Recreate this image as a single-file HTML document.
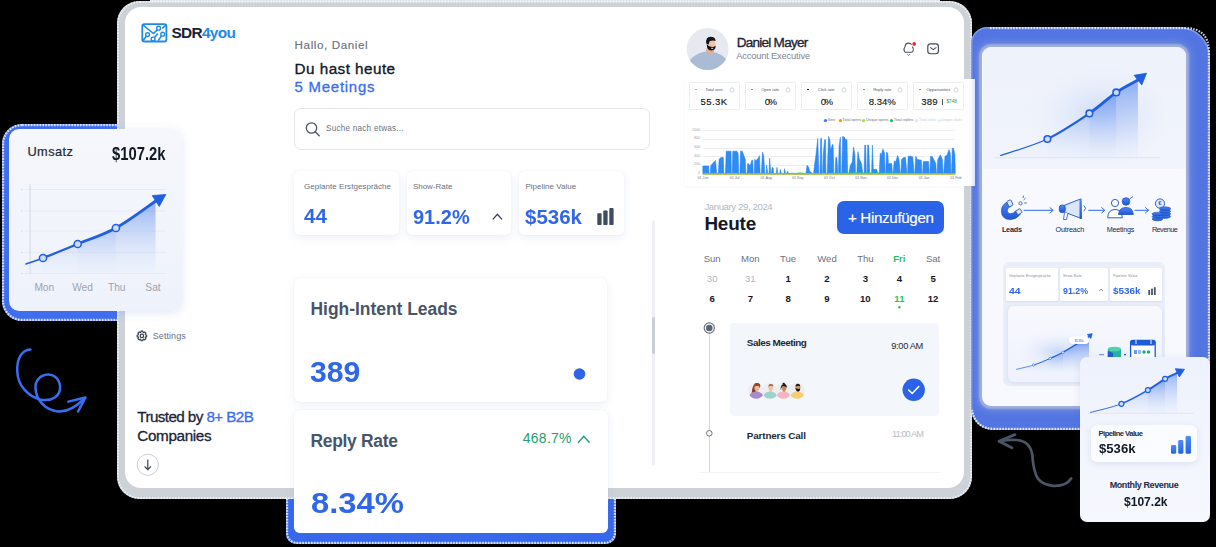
<!DOCTYPE html>
<html><head><meta charset="utf-8">
<style>
*{margin:0;padding:0;box-sizing:border-box}
html,body{width:1216px;height:547px;overflow:hidden;background:#000;font-family:"Liberation Sans",sans-serif}
.a{position:absolute}
svg.a{overflow:visible}
.t{position:absolute;white-space:nowrap;line-height:1}
</style></head><body>
<div class="a" style="left:2.00px;top:124.00px;width:186.00px;height:197.00px;border-radius:20px;background:#3f6ef0;box-shadow:inset 0 0 0 1.5px rgba(190,200,250,.4)"></div>
<div class="a" style="left:286.00px;top:470.00px;width:330.00px;height:74.00px;border-radius:0 0 10px 10px;background:#3869ee;box-shadow:inset 0 0 0 1.5px rgba(190,200,250,.4)"></div>
<svg class="a" style="left:0.00px;top:122.00px;" width="190.00" height="201.00" viewBox="0.00 122.00 190.00 201.00"><rect x="3.10" y="125.10" width="183.80" height="194.80" rx="19.00" fill="none" stroke="rgba(240,246,255,.85)" stroke-width="2.20" stroke-dasharray="1.6 1.3"/></svg>
<svg class="a" style="left:284.00px;top:458.00px;" width="334.00" height="88.00" viewBox="284.00 458.00 334.00 88.00"><rect x="287.10" y="461.10" width="327.80" height="81.80" rx="10.00" fill="none" stroke="rgba(240,246,255,.85)" stroke-width="2.20" stroke-dasharray="1.6 1.3"/></svg>
<div class="a" style="left:117.00px;top:1.00px;width:855.00px;height:498.00px;border-radius:22px;background:#ccd2d8"></div>
<div class="a" style="left:150.00px;top:0.00px;width:790.00px;height:2.20px;background:#e4e7ec"></div>
<svg class="a" style="left:115.00px;top:-1.00px;" width="859.00" height="502.00" viewBox="115.00 -1.00 859.00 502.00"><rect x="117.90" y="1.90" width="853.20" height="496.20" rx="22.00" fill="none" stroke="rgba(245,248,250,.85)" stroke-width="1.80" stroke-dasharray="1.6 1.3"/></svg>
<div class="a" style="left:125.00px;top:7.00px;width:839.00px;height:481.00px;border-radius:16px;background:#fff"></div>
<div class="a" style="left:971.00px;top:27.00px;width:239.00px;height:403.00px;border-radius:16px 30px 30px 22px;background:#5275e2;box-shadow:inset 0 0 0 1.5px rgba(190,200,250,.45)"></div>
<svg class="a" style="left:968.00px;top:24.00px;" width="244.00" height="409.00" viewBox="968.00 24.00 244.00 409.00"><path d="M990 28.1 L1185 28.1 Q1208.9 28.1 1208.9 52 L1208.9 405 Q1208.9 428.9 1185 428.9 L995 428.9 Q975 428.9 972.1 410" fill="none" stroke="rgba(240,246,255,.85)" stroke-width="2.2" stroke-dasharray="1.6 1.3"/></svg>
<svg class="a" style="left:139.00px;top:21.00px;" width="31.00" height="23.00" viewBox="139.00 21.00 31.00 23.00">
<rect x="142.3" y="24.1" width="24.1" height="17.4" rx="2" fill="none" stroke="#1f8ae8" stroke-width="1.8"/>
<path d="M142.8 24.8 L153.5 33.5 L157.6 29.6 M162.2 28.4 L166 25.2 M142.6 41 L146.4 36 M154.3 37.5 L157.8 33.6 M158.2 40.6 L161.6 35.8" fill="none" stroke="#1f8ae8" stroke-width="1.6"/>
<circle cx="147.6" cy="34.6" r="1.9" fill="#fff" stroke="#1f8ae8" stroke-width="1.4"/>
<circle cx="153.1" cy="39" r="1.9" fill="#fff" stroke="#1f8ae8" stroke-width="1.4"/>
<circle cx="158.6" cy="28.2" r="1.9" fill="#fff" stroke="#1f8ae8" stroke-width="1.4"/>
<circle cx="162.7" cy="34.2" r="1.9" fill="#fff" stroke="#1f8ae8" stroke-width="1.4"/>
</svg>
<div class="t" style="left:171.50px;top:25.15px;font-size:15.41px;color:#182238;font-weight:bold;letter-spacing:-0.684px;">SDR<span style="color:#1f8ae8">4you</span></div>
<div class="t" style="left:294.60px;top:39.05px;font-size:11.63px;color:#6b7280;letter-spacing:0.590px;-webkit-text-stroke-width:0.15px;">Hallo, Daniel</div>
<div class="t" style="left:294.60px;top:60.58px;font-size:15.26px;color:#111827;letter-spacing:0.459px;-webkit-text-stroke-width:0.35px;">Du hast heute</div>
<div class="t" style="left:294.60px;top:79.72px;font-size:14.97px;color:#3a6cf0;letter-spacing:0.737px;-webkit-text-stroke-width:0.30px;">5 Meetings</div>
<div class="a" style="left:294.00px;top:108.00px;width:356.00px;height:41.50px;border:1px solid #e3e6eb;border-radius:7px;background:#fff"></div>
<svg class="a" style="left:304.00px;top:120.00px;" width="18.00" height="18.00" viewBox="304.00 120.00 18.00 18.00"><circle cx="311.5" cy="128" r="5.2" fill="none" stroke="#4b5563" stroke-width="1.3"/><path d="M315.3 131.8 L319.2 135.7" stroke="#4b5563" stroke-width="1.4" stroke-linecap="round"/></svg>
<div class="t" style="left:326.00px;top:124.61px;font-size:8.14px;color:#6b7280;letter-spacing:0.247px;">Suche nach etwas...</div>
<div class="a" style="left:294.00px;top:171.00px;width:105.00px;height:64.00px;border-radius:5px;background:#fff;box-shadow:0 3px 8px rgba(60,90,160,.09),0 0 1px 0 rgba(200,210,230,.5)"></div>
<div class="a" style="left:406.60px;top:171.00px;width:104.60px;height:64.00px;border-radius:5px;background:#fff;box-shadow:0 3px 8px rgba(60,90,160,.09),0 0 1px 0 rgba(200,210,230,.5)"></div>
<div class="a" style="left:518.80px;top:171.00px;width:105.00px;height:64.00px;border-radius:5px;background:#fff;box-shadow:0 3px 8px rgba(60,90,160,.09),0 0 1px 0 rgba(200,210,230,.5)"></div>
<div class="t" style="left:304.00px;top:183.23px;font-size:7.99px;color:#6b7280;letter-spacing:0.045px;">Geplante Erstgespräche</div>
<div class="t" style="left:412.90px;top:183.23px;font-size:7.99px;color:#6b7280;letter-spacing:-0.005px;">Show-Rate</div>
<div class="t" style="left:525.40px;top:183.23px;font-size:7.99px;color:#6b7280;letter-spacing:0.027px;">Pipeline Value</div>
<div class="t" style="left:304.00px;top:207.39px;font-size:19.62px;color:#2f66ea;font-weight:bold;transform:scaleX(1.0446);transform-origin:0 0;">44</div>
<div class="t" style="left:412.90px;top:207.02px;font-size:20.06px;color:#2f66ea;font-weight:bold;transform:scaleX(0.9969);transform-origin:0 0;">91.2%</div>
<div class="t" style="left:525.40px;top:207.02px;font-size:20.06px;color:#2f66ea;font-weight:bold;transform:scaleX(1.0219);transform-origin:0 0;">$536k</div>
<svg class="a" style="left:490.00px;top:210.00px;" width="16.00" height="12.00" viewBox="490.00 210.00 16.00 12.00"><path d="M492.8 219.4 L497.4 214.2 L502 219.4" fill="none" stroke="#374151" stroke-width="1.3"/></svg>
<svg class="a" style="left:596.00px;top:206.00px;" width="20.00" height="21.00" viewBox="596.00 206.00 20.00 21.00"><rect x="597.3" y="213.2" width="4.3" height="11.9" rx="0.8" fill="#3f4c5e"/><rect x="603.3" y="210.4" width="4.3" height="14.7" rx="0.8" fill="#3f4c5e"/><rect x="609.3" y="208.1" width="4.3" height="17" rx="0.8" fill="#3f4c5e"/></svg>
<div class="a" style="left:293.80px;top:277.70px;width:313.70px;height:124.10px;border-radius:6px;background:#fff;box-shadow:0 3px 10px rgba(60,90,160,.09),0 0 1px 0 rgba(200,210,230,.5)"></div>
<div class="t" style="left:310.50px;top:300.83px;font-size:17.44px;color:#475569;font-weight:bold;letter-spacing:-0.017px;">High-Intent Leads</div>
<div class="t" style="left:310.00px;top:357.04px;font-size:29.36px;color:#2f66ea;font-weight:bold;transform:scaleX(1.0288);transform-origin:0 0;">389</div>
<svg class="a" style="left:570.00px;top:365.00px;" width="20.00" height="20.00" viewBox="570.00 365.00 20.00 20.00"><circle cx="579.5" cy="374" r="5.8" fill="#2f62e6"/></svg>
<div class="a" style="left:294.00px;top:410.30px;width:314.00px;height:123.20px;border-radius:6px;background:#fff;box-shadow:0 3px 10px rgba(60,90,160,.09),0 0 1px 0 rgba(200,210,230,.5)"></div>
<div class="t" style="left:310.60px;top:432.73px;font-size:17.44px;color:#475569;font-weight:bold;letter-spacing:-0.315px;">Reply Rate</div>
<div class="t" style="left:522.80px;top:432.39px;font-size:13.95px;color:#1f9d6c;letter-spacing:0.279px;">468.7%</div>
<svg class="a" style="left:575.00px;top:432.00px;" width="18.00" height="14.00" viewBox="575.00 432.00 18.00 14.00"><path d="M578 442.8 L583.8 436.2 L589.6 442.8" fill="none" stroke="#1f9d6c" stroke-width="1.3"/></svg>
<div class="t" style="left:310.60px;top:489.03px;font-size:28.78px;color:#2f66ea;font-weight:bold;transform:scaleX(1.1397);transform-origin:0 0;">8.34%</div>
<div class="a" style="left:652.00px;top:220.00px;width:2.50px;height:245.00px;background:#eef0f4;border-radius:2px"></div>
<div class="a" style="left:652.00px;top:316.70px;width:2.50px;height:37.80px;background:#c9ced6;border-radius:2px"></div>
<svg class="a" style="left:134.00px;top:328.00px;" width="16.00" height="16.00" viewBox="134.00 328.00 16.00 16.00"><circle cx="141.9" cy="335.9" r="1.7" fill="none" stroke="#374151" stroke-width="1.2"/><path d="M146.70 334.93 L146.70 336.87 L145.46 336.90 L145.12 337.71 L145.98 338.61 L144.61 339.98 L143.71 339.12 L142.90 339.46 L142.87 340.70 L140.93 340.70 L140.90 339.46 L140.09 339.12 L139.19 339.98 L137.82 338.61 L138.68 337.71 L138.34 336.90 L137.10 336.87 L137.10 334.93 L138.34 334.90 L138.68 334.09 L137.82 333.19 L139.19 331.82 L140.09 332.68 L140.90 332.34 L140.93 331.10 L142.87 331.10 L142.90 332.34 L143.71 332.68 L144.61 331.82 L145.98 333.19 L145.12 334.09 L145.46 334.90Z" fill="none" stroke="#374151" stroke-width="1.1" stroke-linejoin="round"/></svg>
<div class="t" style="left:152.80px;top:331.57px;font-size:9.01px;color:#6b7280;letter-spacing:0.055px;">Settings</div>
<div class="t" style="left:137.30px;top:409.48px;font-size:15.26px;color:#1b2438;letter-spacing:-0.604px;-webkit-text-stroke-width:0.30px;">Trusted by <span style="color:#3a6cf0">8+ B2B</span></div>
<div class="t" style="left:137.30px;top:427.88px;font-size:15.26px;color:#1b2438;letter-spacing:-0.355px;-webkit-text-stroke-width:0.30px;">Companies</div>
<svg class="a" style="left:135.00px;top:452.00px;" width="26.00" height="26.00" viewBox="135.00 452.00 26.00 26.00"><circle cx="147.8" cy="464.8" r="10.6" fill="#fff" stroke="#c4c8ce" stroke-width="0.9"/><path d="M147.8 459.5 V469.5 M144.6 466.4 L147.8 469.7 L151 466.4" fill="none" stroke="#374151" stroke-width="1.2"/></svg>
<svg class="a" style="left:684.00px;top:26.00px;" width="48.00" height="46.00" viewBox="684.00 26.00 48.00 46.00"><defs><clipPath id="avc"><circle cx="707.6" cy="49" r="21"/></clipPath></defs>
<circle cx="707.6" cy="49" r="21" fill="#e6eaf0"/>
<g clip-path="url(#avc)">
<ellipse cx="708.5" cy="70.5" rx="22" ry="19" fill="#a8bcd6"/>
<path d="M706.2 48.5 L713.2 48.5 L714 51.6 L710.2 55 L705.8 51.6Z" fill="#e8ac93"/>
<ellipse cx="711" cy="43.6" rx="4.4" ry="5.6" fill="#f0c2a6"/>
<path d="M706.2 43.5 Q705.5 37 710.5 36.8 Q715.4 36.8 715.6 41 Q712.6 39.8 709.6 41.2 L708.6 44.5Z" fill="#111318"/>
<path d="M706.8 44 Q706.6 50.3 711.2 50.6 Q715.8 50.3 715.6 45.5 Q714.2 47.2 711.8 47.1 Q708.5 47 706.8 44Z" fill="#111318"/>
<rect x="711.2" y="47.8" width="2" height="0.9" fill="#fff"/>
</g></svg>
<div class="t" style="left:736.70px;top:35.55px;font-size:13.52px;color:#1e2536;letter-spacing:-0.736px;-webkit-text-stroke-width:0.35px;">Daniel Mayer</div>
<div class="t" style="left:736.20px;top:52.12px;font-size:9.30px;color:#7d8696;letter-spacing:-0.160px;">Account Executive</div>
<svg class="a" style="left:898.00px;top:38.00px;" width="46.00" height="22.00" viewBox="898.00 38.00 46.00 22.00"><path d="M911.6 44.6 Q910.6 43.1 908.6 43.1 Q905.3 43.1 905 46.8 Q903.6 48.6 904.2 50.6 Q904.5 52.3 905.8 52.3 L911.4 52.3 Q912.8 52.3 913.2 50.6 Q913.8 48.6 912.4 46.6" fill="none" stroke="#3f4a5a" stroke-width="1.05" stroke-linejoin="round"/>
<path d="M907.4 54.3 L908.6 55.3 L909.8 54.3" fill="none" stroke="#3f4a5a" stroke-width="0.9"/>
<circle cx="914.2" cy="43.9" r="1.9" fill="#ee2d2d"/>
<rect x="927.8" y="43.9" width="10.6" height="9.8" rx="2.6" fill="none" stroke="#3f4a5a" stroke-width="1.15"/>
<path d="M930.2 47.4 L933.2 49.6 L936.4 47.4" fill="none" stroke="#3f4a5a" stroke-width="1.05"/></svg>
<div class="a" style="left:685.00px;top:79.00px;width:290.00px;height:106.60px;background:#fff;box-shadow:0 1px 3px rgba(0,0,0,.04)"></div>
<div class="a" style="left:688.60px;top:82.00px;width:51.10px;height:28.00px;border:0.8px solid #eceef2;border-radius:2px;background:#fff"></div>
<div class="a" style="left:694.60px;top:88.60px;width:2.50px;height:1.60px;background:#f59e0b;border-radius:1px"></div>
<div class="t" style="left:705.54px;top:87.81px;font-size:4.00px;color:#4b5563;">Total sent</div>
<svg class="a" style="left:728.60px;top:86.60px;" width="6.00" height="6.00" viewBox="728.60 86.60 6.00 6.00"><circle cx="731.60" cy="89.6" r="2.2" fill="none" stroke="#b8bcc4" stroke-width="0.6"/></svg>
<div class="t" style="left:700.60px;top:96.68px;font-size:9.59px;color:#111;letter-spacing:0.386px;-webkit-text-stroke:0.12px #111;">55.3K</div>
<div class="a" style="left:744.65px;top:82.00px;width:51.10px;height:28.00px;border:0.8px solid #eceef2;border-radius:2px;background:#fff"></div>
<div class="a" style="left:750.65px;top:88.60px;width:2.50px;height:1.60px;background:#3b82f6;border-radius:1px"></div>
<div class="t" style="left:761.26px;top:87.81px;font-size:4.00px;color:#4b5563;">Open rate</div>
<svg class="a" style="left:784.65px;top:86.60px;" width="6.00" height="6.00" viewBox="784.65 86.60 6.00 6.00"><circle cx="787.65" cy="89.6" r="2.2" fill="none" stroke="#b8bcc4" stroke-width="0.6"/></svg>
<div class="t" style="left:764.75px;top:96.68px;font-size:9.59px;color:#111;letter-spacing:-1.532px;-webkit-text-stroke:0.12px #111;">0%</div>
<div class="a" style="left:800.70px;top:82.00px;width:51.10px;height:28.00px;border:0.8px solid #eceef2;border-radius:2px;background:#fff"></div>
<div class="a" style="left:806.70px;top:88.60px;width:2.50px;height:1.60px;background:#111;border-radius:1px"></div>
<div class="t" style="left:817.86px;top:87.81px;font-size:4.00px;color:#4b5563;">Click rate</div>
<svg class="a" style="left:840.70px;top:86.60px;" width="6.00" height="6.00" viewBox="840.70 86.60 6.00 6.00"><circle cx="843.70" cy="89.6" r="2.2" fill="none" stroke="#b8bcc4" stroke-width="0.6"/></svg>
<div class="t" style="left:820.80px;top:96.68px;font-size:9.59px;color:#111;letter-spacing:-1.532px;-webkit-text-stroke:0.12px #111;">0%</div>
<div class="a" style="left:856.75px;top:82.00px;width:51.10px;height:28.00px;border:0.8px solid #eceef2;border-radius:2px;background:#fff"></div>
<div class="a" style="left:862.75px;top:88.60px;width:2.50px;height:1.60px;background:#a855f7;border-radius:1px"></div>
<div class="t" style="left:873.13px;top:87.81px;font-size:4.00px;color:#4b5563;">Reply rate</div>
<svg class="a" style="left:896.75px;top:86.60px;" width="6.00" height="6.00" viewBox="896.75 86.60 6.00 6.00"><circle cx="899.75" cy="89.6" r="2.2" fill="none" stroke="#b8bcc4" stroke-width="0.6"/></svg>
<div class="t" style="left:868.75px;top:96.68px;font-size:9.59px;color:#111;letter-spacing:-0.040px;-webkit-text-stroke:0.12px #111;">8.34%</div>
<div class="a" style="left:912.80px;top:82.00px;width:51.10px;height:28.00px;border:0.8px solid #eceef2;border-radius:2px;background:#fff"></div>
<div class="a" style="left:918.80px;top:88.60px;width:2.50px;height:1.60px;background:#22c55e;border-radius:1px"></div>
<div class="t" style="left:926.40px;top:87.81px;font-size:4.00px;color:#4b5563;">Opportunities</div>
<svg class="a" style="left:952.80px;top:86.60px;" width="6.00" height="6.00" viewBox="952.80 86.60 6.00 6.00"><circle cx="955.80" cy="89.6" r="2.2" fill="none" stroke="#b8bcc4" stroke-width="0.6"/></svg>
<div class="t" style="left:921.30px;top:96.68px;font-size:9.59px;color:#111;letter-spacing:0.165px;-webkit-text-stroke:0.12px #111;">389</div>
<div class="a" style="left:942.00px;top:98.50px;width:0.70px;height:6.50px;background:#555"></div>
<div class="t" style="left:946.50px;top:99.71px;font-size:4.60px;color:#16a34a;letter-spacing:0.017px;">$748</div>
<svg class="a" style="left:823.10px;top:118.00px;" width="5.00" height="5.00" viewBox="823.10 118.00 5.00 5.00"><circle cx="825.60" cy="120.6" r="1.7" fill="#3b82f6"/></svg>
<div class="t" style="left:827.80px;top:119.15px;font-size:3.60px;color:#6b7280;">Sent</div>
<svg class="a" style="left:837.90px;top:118.00px;" width="5.00" height="5.00" viewBox="837.90 118.00 5.00 5.00"><circle cx="840.40" cy="120.6" r="1.7" fill="#f59e0b"/></svg>
<div class="t" style="left:842.60px;top:119.15px;font-size:3.60px;color:#6b7280;">Total opens</div>
<svg class="a" style="left:861.30px;top:118.00px;" width="5.00" height="5.00" viewBox="861.30 118.00 5.00 5.00"><circle cx="863.80" cy="120.6" r="1.7" fill="#a3e635"/></svg>
<div class="t" style="left:866.00px;top:119.15px;font-size:3.60px;color:#6b7280;">Unique opens</div>
<svg class="a" style="left:889.20px;top:118.00px;" width="5.00" height="5.00" viewBox="889.20 118.00 5.00 5.00"><circle cx="891.70" cy="120.6" r="1.7" fill="#22c55e"/></svg>
<div class="t" style="left:893.90px;top:119.15px;font-size:3.60px;color:#6b7280;">Total replies</div>
<svg class="a" style="left:914.40px;top:118.00px;" width="5.00" height="5.00" viewBox="914.40 118.00 5.00 5.00"><circle cx="916.90" cy="120.6" r="1.7" fill="#e5e7eb"/></svg>
<div class="t" style="left:919.10px;top:119.15px;font-size:3.60px;color:#c9ccd2;">Total clicks</div>
<svg class="a" style="left:936.50px;top:118.00px;" width="5.00" height="5.00" viewBox="936.50 118.00 5.00 5.00"><circle cx="939.00" cy="120.6" r="1.7" fill="#e0f2fe"/></svg>
<div class="t" style="left:941.20px;top:119.15px;font-size:3.60px;color:#c9ccd2;">Unique clicks</div>
<div class="a" style="left:702.70px;top:130.20px;width:252.30px;height:0.60px;background:#eceef2"></div>
<div class="t" style="left:691.99px;top:128.65px;font-size:3.60px;color:#9ca3af;">1000</div>
<div class="a" style="left:702.70px;top:138.90px;width:252.30px;height:0.60px;background:#eceef2"></div>
<div class="t" style="left:693.99px;top:137.35px;font-size:3.60px;color:#9ca3af;">800</div>
<div class="a" style="left:702.70px;top:147.50px;width:252.30px;height:0.60px;background:#eceef2"></div>
<div class="t" style="left:693.99px;top:145.95px;font-size:3.60px;color:#9ca3af;">600</div>
<div class="a" style="left:702.70px;top:156.40px;width:252.30px;height:0.60px;background:#eceef2"></div>
<div class="t" style="left:693.99px;top:154.85px;font-size:3.60px;color:#9ca3af;">400</div>
<div class="a" style="left:702.70px;top:165.00px;width:252.30px;height:0.60px;background:#eceef2"></div>
<div class="t" style="left:693.99px;top:163.45px;font-size:3.60px;color:#9ca3af;">200</div>
<div class="a" style="left:702.70px;top:173.70px;width:252.30px;height:0.60px;background:#eceef2"></div>
<div class="t" style="left:698.00px;top:172.15px;font-size:3.60px;color:#9ca3af;">0</div>
<div class="t" style="left:697.60px;top:177.15px;font-size:3.60px;color:#6b7280;">01 Jun</div>
<div class="t" style="left:729.80px;top:177.15px;font-size:3.60px;color:#6b7280;">01 Jul</div>
<div class="t" style="left:760.59px;top:177.15px;font-size:3.60px;color:#6b7280;">01 Aug</div>
<div class="t" style="left:792.09px;top:177.15px;font-size:3.60px;color:#6b7280;">01 Sep</div>
<div class="t" style="left:824.10px;top:177.15px;font-size:3.60px;color:#6b7280;">01 Oct</div>
<div class="t" style="left:855.30px;top:177.15px;font-size:3.60px;color:#6b7280;">01 Nov</div>
<div class="t" style="left:886.90px;top:177.15px;font-size:3.60px;color:#6b7280;">01 Dec</div>
<div class="t" style="left:918.80px;top:177.15px;font-size:3.60px;color:#6b7280;">01 Jan</div>
<div class="t" style="left:950.20px;top:177.15px;font-size:3.60px;color:#6b7280;">01 Feb</div>
<svg class="a" style="left:700.00px;top:125.00px;" width="260.00" height="53.00" viewBox="700.00 125.00 260.00 53.00"><path d="M702.8 173.7 L702.84 173.70 L702.84 166.11 L708.78 166.11 L709.02 173.70 L710.20 173.70 L710.80 165.76 L713.18 162.79 L715.55 160.41 L716.74 173.70 L718.29 173.70 L719.12 159.22 L720.90 157.44 L723.28 157.44 L723.87 173.70 L725.42 173.70 L726.25 151.14 L731.00 151.14 L731.36 173.70 L732.19 173.70 L732.79 151.14 L736.95 151.14 L738.13 153.28 L738.73 173.70 L739.92 173.70 L740.51 151.14 L742.29 151.14 L745.27 159.22 L745.86 173.70 L747.05 173.70 L747.64 163.38 L748.83 163.97 L749.42 165.16 L750.61 164.57 L751.80 160.17 L752.75 160.17 L753.23 173.70 L754.18 173.70 L754.77 159.22 L755.96 161.00 L757.15 159.22 L758.34 158.03 L759.53 155.65 L760.12 173.70 L761.31 173.70 L762.50 152.09 L763.69 155.65 L764.88 173.70 L766.06 173.70 L766.66 164.93 L767.85 173.70 L769.03 173.70 L769.63 158.03 L770.82 173.70 L771.41 173.70 L772.01 167.30 L773.19 168.13 L773.79 173.70 L776.17 173.70 L777.00 167.30 L777.95 173.70 L779.73 173.70 L780.33 169.32 L781.51 173.70 L783.89 173.70 L784.49 168.73 L785.67 173.70 L786.86 173.70 L787.46 171.11 L788.65 173.70 L791.02 173.70 L791.62 173.24 L794.59 173.24 L795.18 173.70 L805.88 173.70 L807.07 165.16 L808.85 167.54 L809.44 171.11 L811.23 172.29 L811.82 173.70 L813.60 173.70 L814.20 167.54 L815.98 154.47 L817.76 138.42 L818.95 173.70 L820.00 173.29 L820.66 138.42 L821.58 138.42 L821.97 173.29 L822.63 173.29 L823.29 154.21 L824.61 139.74 L825.53 139.74 L825.92 173.29 L827.24 173.29 L828.55 136.45 L829.87 139.74 L830.53 150.26 L832.50 144.34 L833.16 145.00 L833.82 173.29 L835.13 173.29 L835.79 157.50 L836.84 157.50 L837.11 162.11 L837.76 173.29 L838.42 173.29 L839.08 146.32 L840.39 137.11 L840.79 173.29 L841.71 173.29 L842.63 136.45 L844.34 137.11 L845.66 139.74 L846.97 139.74 L847.63 173.29 L848.95 173.29 L850.26 165.39 L852.24 162.11 L853.55 146.97 L854.87 154.21 L855.53 173.29 L856.84 173.29 L857.89 151.58 L859.47 159.47 L861.45 163.42 L862.76 173.29 L864.08 173.29 L864.74 145.00 L865.66 145.00 L866.32 173.29 L867.11 173.29 L867.63 145.00 L868.68 145.00 L869.74 173.29 L871.58 173.29 L872.37 145.00 L873.29 169.34 L876.58 169.34 L877.89 173.29 L879.21 173.29 L880.26 152.89 L881.18 155.53 L882.89 148.95 L884.47 152.89 L885.13 173.29 L885.79 173.29 L886.45 152.24 L887.76 152.89 L888.42 163.42 L891.71 163.42 L892.37 173.29 L893.03 173.29 L894.34 160.79 L895.66 162.11 L897.63 155.53 L898.95 159.47 L900.26 173.29 L900.92 173.29 L901.58 159.47 L903.55 157.50 L905.53 157.50 L906.84 173.29 L907.50 173.29 L908.16 156.18 L910.79 156.18 L912.76 156.84 L914.08 173.29 L914.74 173.29 L915.79 156.18 L917.37 159.47 L921.32 160.13 L921.97 173.29 L922.63 173.29 L923.29 161.45 L928.55 161.45 L929.21 173.29 L929.87 173.29 L930.53 156.18 L932.50 156.84 L935.79 163.42 L936.45 173.29 L937.11 173.29 L937.76 159.47 L940.39 154.87 L942.37 159.47 L943.03 173.29 L943.68 173.29 L945.00 156.18 L946.97 155.53 L948.95 149.61 L950.26 152.89 L950.92 173.29 L951.58 173.29 L952.24 148.29 L953.55 148.29 L954.87 154.87 L955.26 169.34 L955.26 173.29 L955.3 173.7 Z" fill="#2f8cf4" stroke="#1a7ff0" stroke-width="0.5" stroke-linejoin="round"/><path d="M702.8 173.7 L760 173.2 L790 173.5 L800 172.6 L808 173.2 L860 172.6 L955 173.2 L955 174.5 L702.8 174.5Z" fill="#27c97a"/><rect x="702.8" y="173.4" width="252.5" height="1.1" fill="#eab308"/></svg>
<div class="t" style="left:704.40px;top:201.88px;font-size:9.59px;color:#b3b8c0;letter-spacing:-0.384px;">January 29, 2024</div>
<div class="t" style="left:704.40px;top:215.00px;font-size:18.90px;color:#111827;font-weight:bold;letter-spacing:-0.160px;">Heute</div>
<div class="a" style="left:837.00px;top:201.20px;width:106.80px;height:32.70px;border-radius:7px;background:#2a62e8"></div>
<div class="t" style="left:848.00px;top:210.40px;font-size:15.12px;color:#fff;letter-spacing:-0.325px;-webkit-text-stroke-width:0.20px;">+ Hinzufügen</div>
<div class="t" style="left:703.67px;top:253.88px;font-size:9.59px;color:#6b7280;">Sun</div>
<div class="t" style="left:741.07px;top:253.88px;font-size:9.59px;color:#6b7280;">Mon</div>
<div class="t" style="left:780.01px;top:253.88px;font-size:9.59px;color:#6b7280;">Tue</div>
<div class="t" style="left:817.22px;top:253.88px;font-size:9.59px;color:#6b7280;">Wed</div>
<div class="t" style="left:857.13px;top:253.88px;font-size:9.59px;color:#6b7280;">Thu</div>
<div class="t" style="left:893.27px;top:253.88px;font-size:9.59px;color:#22c55e;font-weight:bold;">Fri</div>
<div class="t" style="left:925.90px;top:253.88px;font-size:9.59px;color:#6b7280;">Sat</div>
<div class="t" style="left:706.86px;top:273.88px;font-size:9.59px;color:#b3b8c0;">30</div>
<div class="t" style="left:745.06px;top:273.88px;font-size:9.59px;color:#b3b8c0;">31</div>
<div class="t" style="left:785.43px;top:273.88px;font-size:9.59px;color:#111827;font-weight:bold;">1</div>
<div class="t" style="left:824.33px;top:273.88px;font-size:9.59px;color:#111827;font-weight:bold;">2</div>
<div class="t" style="left:862.73px;top:273.88px;font-size:9.59px;color:#111827;font-weight:bold;">3</div>
<div class="t" style="left:896.73px;top:273.88px;font-size:9.59px;color:#111827;font-weight:bold;">4</div>
<div class="t" style="left:930.43px;top:273.88px;font-size:9.59px;color:#111827;font-weight:bold;">5</div>
<div class="t" style="left:709.53px;top:293.88px;font-size:9.59px;color:#111827;font-weight:bold;">6</div>
<div class="t" style="left:747.73px;top:293.88px;font-size:9.59px;color:#111827;font-weight:bold;">7</div>
<div class="t" style="left:785.43px;top:293.88px;font-size:9.59px;color:#111827;font-weight:bold;">8</div>
<div class="t" style="left:824.33px;top:293.88px;font-size:9.59px;color:#111827;font-weight:bold;">9</div>
<div class="t" style="left:860.06px;top:293.88px;font-size:9.59px;color:#111827;font-weight:bold;">10</div>
<div class="t" style="left:894.33px;top:293.88px;font-size:9.59px;color:#22c55e;font-weight:bold;">11</div>
<div class="t" style="left:927.76px;top:293.88px;font-size:9.59px;color:#111827;font-weight:bold;">12</div>
<svg class="a" style="left:897.00px;top:304.50px;" width="5.00" height="4.50" viewBox="897.00 304.50 5.00 4.50"><circle cx="899.4" cy="306.7" r="1.2" fill="#22c55e"/></svg>
<div class="a" style="left:708.80px;top:332.00px;width:1.10px;height:139.50px;background:#d4d7dc"></div>
<svg class="a" style="left:701.00px;top:320.00px;" width="17.00" height="17.00" viewBox="701.00 320.00 17.00 17.00"><circle cx="709.3" cy="328" r="5.1" fill="#fff" stroke="#6b7280" stroke-width="1.2"/><circle cx="709.3" cy="328" r="3.3" fill="#5b6475"/></svg>
<svg class="a" style="left:704.00px;top:428.00px;" width="11.00" height="11.00" viewBox="704.00 428.00 11.00 11.00"><circle cx="709.3" cy="433.3" r="2.8" fill="#fff" stroke="#6b7280" stroke-width="1"/></svg>
<div class="a" style="left:730.40px;top:323.40px;width:209.10px;height:92.20px;border-radius:4px;background:#f3f6fb"></div>
<div class="t" style="left:746.80px;top:337.63px;font-size:9.88px;color:#1f2937;font-weight:bold;letter-spacing:-0.486px;">Sales Meeting</div>
<div class="t" style="left:891.30px;top:341.72px;font-size:9.30px;color:#1f2937;letter-spacing:-0.347px;">9:00 AM</div>
<div class="t" style="left:746.80px;top:430.83px;font-size:9.88px;color:#1f2937;font-weight:bold;letter-spacing:-0.152px;">Partners Call</div>
<div class="t" style="left:892.00px;top:429.72px;font-size:9.30px;color:#b8bcc4;letter-spacing:-0.952px;">11:00 AM</div>
<div class="a" style="left:700.00px;top:471.50px;width:240.00px;height:0.80px;background:#f0f1f4"></div>
<svg class="a" style="left:745.00px;top:380.00px;" width="63.00" height="22.00" viewBox="745.00 380.00 63.00 22.00"><defs><clipPath id="avk0"><circle cx="756.2" cy="390.8" r="8"/></clipPath><clipPath id="avk1"><circle cx="770.2" cy="390.8" r="8"/></clipPath><clipPath id="avk2"><circle cx="783.4" cy="390.8" r="8"/></clipPath><clipPath id="avk3"><circle cx="797.2" cy="390.8" r="8"/></clipPath></defs><circle cx="756.2" cy="390.8" r="8" fill="#eceef2"/><g clip-path="url(#avk0)"><path d="M751.7 393 Q752.7 383 756.7 382.8 Q760.2 382.8 760.4 386 L757.2 392 Z" fill="#8a3f1c"/><rect x="755.6" y="388.5" width="2.4" height="4" fill="#e9b59b"/><ellipse cx="756.8" cy="387.4" rx="2.5" ry="3.1" fill="#e9b59b"/><ellipse cx="756.2" cy="397.6" rx="7.4" ry="6" fill="#a98bcb"/><path d="M754.2 387 Q755.2 383.2 757.4 384 Q759.2 384.2 759.4 386 Q756.7 385 754.2 387Z" fill="#8a3f1c"/></g><circle cx="770.2" cy="390.8" r="8" fill="#eceef2"/><g clip-path="url(#avk1)"><rect x="769.6" y="388.5" width="2.4" height="4" fill="#efc4ae"/><ellipse cx="770.8" cy="387.4" rx="2.5" ry="3.1" fill="#efc4ae"/><ellipse cx="770.2" cy="397.6" rx="7.4" ry="6" fill="#9fd3c7"/><path d="M768.2 387 Q768.7 383.4 771.0 384 Q773.4 384 773.4 386.4 Q771.0 385 768.2 386.8Z" fill="#a8643a"/></g><circle cx="783.4" cy="390.8" r="8" fill="#eceef2"/><g clip-path="url(#avk2)"><rect x="782.8" y="388.5" width="2.4" height="4" fill="#c68a5c"/><ellipse cx="784.0" cy="387.4" rx="2.5" ry="3.1" fill="#c68a5c"/><ellipse cx="783.4" cy="397.6" rx="7.4" ry="6" fill="#f7b3c0"/><path d="M780.4 390 Q780.9 383.5 784.2 384 Q786.8 384 786.8 387.5 Q784.4 385.2 782.4 386.2 Q781.4 387.5 780.4 390Z" fill="#15161c"/><circle cx="783.7" cy="383" r="1.2" fill="#15161c"/></g><circle cx="797.2" cy="390.8" r="8" fill="#eceef2"/><g clip-path="url(#avk3)"><rect x="796.6" y="388.5" width="2.4" height="4" fill="#c99362"/><ellipse cx="797.8" cy="387.4" rx="2.5" ry="3.1" fill="#c99362"/><ellipse cx="797.2" cy="397.6" rx="7.4" ry="6" fill="#f8cd72"/><path d="M795.2 386.6 Q796.0 383.4 798.0 383.8 Q800.2 384 800.4 386.4 Q798.0 385.2 795.2 386.6Z" fill="#15161c"/><path d="M795.4 388 Q796.2 391.6 798.1 391.5 Q800.2 391.4 800.3 388.6 Q798.0 389.6 795.4 388Z" fill="#15161c"/></g></svg>
<svg class="a" style="left:901.00px;top:377.00px;" width="25.00" height="25.00" viewBox="901.00 377.00 25.00 25.00"><circle cx="913.7" cy="389.8" r="11.2" fill="#2a62e8"/><path d="M908.6 390 L912.2 393.4 L918.8 386.6" fill="none" stroke="#fff" stroke-width="1.5" stroke-linecap="round" stroke-linejoin="round"/></svg>
<div class="a" style="left:9.00px;top:129.00px;width:173.20px;height:182.00px;border-radius:10px;background:linear-gradient(180deg,#f5f7fc,#eef2fb);box-shadow:0 2px 10px rgba(70,110,220,.16)"></div>
<div class="t" style="left:27.40px;top:146.17px;font-size:12.79px;color:#1f2937;letter-spacing:0.442px;-webkit-text-stroke-width:0.20px;">Umsatz</div>
<div class="t" style="left:111.50px;top:145.53px;font-size:17.44px;color:#111827;font-weight:bold;transform:scaleX(0.8485);transform-origin:0 0;">$107.2k</div>
<svg class="a" style="left:18.00px;top:180.00px;" width="157.00" height="98.00" viewBox="18.00 180.00 157.00 98.00"><rect x="25" y="189.3" width="141" height="0.7" fill="#e3e7ef"/><rect x="21" y="189.3" width="2" height="0.6" fill="#c9ceda"/><rect x="25" y="210.6" width="141" height="0.7" fill="#e3e7ef"/><rect x="21" y="210.6" width="2" height="0.6" fill="#c9ceda"/><rect x="25" y="230.7" width="141" height="0.7" fill="#e3e7ef"/><rect x="21" y="230.7" width="2" height="0.6" fill="#c9ceda"/><rect x="25" y="252.0" width="141" height="0.7" fill="#e3e7ef"/><rect x="21" y="252.0" width="2" height="0.6" fill="#c9ceda"/><rect x="25" y="273.0" width="141" height="0.7" fill="#e3e7ef"/><rect x="21" y="273.0" width="2" height="0.6" fill="#c9ceda"/><rect x="29.6" y="184.4" width="0.9" height="89" fill="#cfd4de"/><defs><linearGradient id="gum" gradientUnits="userSpaceOnUse" x1="0" y1="208.00" x2="0" y2="273.00"><stop offset="0" stop-color="#4f82ee"/><stop offset="1" stop-color="#dbe6fb" stop-opacity=".25"/></linearGradient><clipPath id="cum"><path d="M26.00 264.00 C28.83 263.00 34.38 261.33 43.00 258.00 C51.62 254.67 65.55 249.00 77.70 244.00 C89.85 239.00 102.89 235.16 115.90 228.00 C128.91 220.84 149.10 205.53 155.73 201.03 L155.73 273.00 L26.00 273.00 Z"/></clipPath></defs><g clip-path="url(#cum)"><rect x="26.00" y="196.03" width="17.00" height="76.97" fill="url(#gum)" opacity="0.30"/><rect x="43.00" y="196.03" width="34.70" height="76.97" fill="url(#gum)" opacity="0.50"/><rect x="77.70" y="196.03" width="38.20" height="76.97" fill="url(#gum)" opacity="0.70"/><rect x="115.90" y="196.03" width="39.83" height="76.97" fill="url(#gum)" opacity="0.50"/></g><path d="M26.00 264.00 C28.83 263.00 34.38 261.33 43.00 258.00" fill="none" stroke="#1f5fe0" stroke-width="1.60" stroke-linecap="round"/><path d="M43.00 258.00 C51.62 254.67 65.55 249.00 77.70 244.00" fill="none" stroke="#1f5fe0" stroke-width="2.40" stroke-linecap="round"/><path d="M77.70 244.00 C89.85 239.00 102.89 235.16 115.90 228.00" fill="none" stroke="#1f5fe0" stroke-width="2.80" stroke-linecap="round"/><path d="M115.90 228.00 C128.91 220.84 149.10 205.53 155.73 201.03" fill="none" stroke="#1f5fe0" stroke-width="2.80" stroke-linecap="round"/><path d="M165.80 194.50 L159.27 206.49 L152.20 195.58 Z" fill="#1f5fe0" stroke="#1f5fe0" stroke-width=".8" stroke-linejoin="round"/><circle cx="43.00" cy="258.00" r="3.60" fill="#cddcf9" stroke="#1f5fe0" stroke-width="1.50"/><circle cx="77.70" cy="244.00" r="3.60" fill="#cddcf9" stroke="#1f5fe0" stroke-width="1.50"/><circle cx="115.90" cy="228.00" r="3.60" fill="#cddcf9" stroke="#1f5fe0" stroke-width="1.50"/></svg>
<div class="t" style="left:34.40px;top:282.89px;font-size:10.17px;color:#9aa3b2;">Mon</div>
<div class="t" style="left:72.13px;top:282.89px;font-size:10.17px;color:#9aa3b2;">Wed</div>
<div class="t" style="left:107.93px;top:282.89px;font-size:10.17px;color:#9aa3b2;">Thu</div>
<div class="t" style="left:145.36px;top:282.89px;font-size:10.17px;color:#9aa3b2;">Sat</div>
<div class="a" style="left:982.00px;top:47.00px;width:204.00px;height:358.60px;border-radius:9px;background:#f8f9fe;box-shadow:0 0 2px 3px rgba(165,180,222,.9),0 0 7px 6px rgba(115,142,222,.7)"></div>
<div class="a" style="left:983.00px;top:47.00px;width:203.00px;height:122.30px;border-radius:9px 9px 4px 4px;background:linear-gradient(180deg,#eef2fb,#f1f4fc)"></div>
<svg class="a" style="left:990.00px;top:65.00px;" width="175.00" height="100.00" viewBox="990.00 65.00 175.00 100.00"><defs><linearGradient id="rg" x1="0" y1="0" x2="0" y2="1"><stop offset="0" stop-color="#5d8bef" stop-opacity=".75"/><stop offset="1" stop-color="#c9daf9" stop-opacity=".25"/></linearGradient><radialGradient id="rglow" cx=".6" cy=".5" r=".5"><stop offset="0" stop-color="#c9d8f6" stop-opacity=".9"/><stop offset="1" stop-color="#eef2fb" stop-opacity="0"/></radialGradient></defs><ellipse cx="1085" cy="115" rx="80" ry="55" fill="url(#rglow)"/><rect x="995" y="157.3" width="165" height="0.9" fill="#dbe2ef"/><defs><linearGradient id="grp" gradientUnits="userSpaceOnUse" x1="0" y1="86.50" x2="0" y2="157.80"><stop offset="0" stop-color="#4f82ee"/><stop offset="1" stop-color="#dbe6fb" stop-opacity=".25"/></linearGradient><clipPath id="crp"><path d="M1000.50 155.50 C1008.32 152.75 1032.58 146.02 1047.40 139.00 C1062.22 131.98 1077.92 121.17 1089.40 113.40 C1100.88 105.63 1108.21 97.95 1116.30 92.40 C1124.39 86.85 1134.33 82.15 1137.94 80.10 L1137.94 157.80 L1000.50 157.80 Z"/></clipPath></defs><g clip-path="url(#crp)"><rect x="1000.50" y="75.10" width="46.90" height="82.70" fill="url(#grp)" opacity="0.35"/><rect x="1047.40" y="75.10" width="42.00" height="82.70" fill="url(#grp)" opacity="0.60"/><rect x="1089.40" y="75.10" width="26.90" height="82.70" fill="url(#grp)" opacity="0.85"/><rect x="1116.30" y="75.10" width="21.64" height="82.70" fill="url(#grp)" opacity="0.55"/></g><path d="M1000.50 155.50 C1008.32 152.75 1032.58 146.02 1047.40 139.00" fill="none" stroke="#1f5fe0" stroke-width="1.20" stroke-linecap="round"/><path d="M1047.40 139.00 C1062.22 131.98 1077.92 121.17 1089.40 113.40" fill="none" stroke="#1f5fe0" stroke-width="2.20" stroke-linecap="round"/><path d="M1089.40 113.40 C1100.88 105.63 1108.21 97.95 1116.30 92.40" fill="none" stroke="#1f5fe0" stroke-width="2.90" stroke-linecap="round"/><path d="M1116.30 92.40 C1124.39 86.85 1134.33 82.15 1137.94 80.10" fill="none" stroke="#1f5fe0" stroke-width="2.90" stroke-linecap="round"/><path d="M1146.50 73.20 L1141.83 84.93 L1134.04 75.28 Z" fill="#1f5fe0" stroke="#1f5fe0" stroke-width=".8" stroke-linejoin="round"/><circle cx="1047.40" cy="139.00" r="3.30" fill="#cddcf9" stroke="#1f5fe0" stroke-width="1.60"/><circle cx="1089.40" cy="113.40" r="3.30" fill="#cddcf9" stroke="#1f5fe0" stroke-width="1.60"/><circle cx="1116.30" cy="92.40" r="3.30" fill="#cddcf9" stroke="#1f5fe0" stroke-width="1.60"/></svg>
<svg class="a" style="left:995.00px;top:192.00px;" width="190.00" height="33.00" viewBox="995.00 192.00 190.00 33.00"><defs><linearGradient id="fg" x1="0" y1="0" x2="0" y2="1"><stop offset="0" stop-color="#4f86f2"/><stop offset="1" stop-color="#1f57d6"/></linearGradient></defs><path d="M1008.8 201.5 Q1001.5 204 1001.5 211 Q1001.5 219.5 1010.5 219.5 Q1016.5 219.5 1020.5 214 L1016.2 210.5 Q1013.5 213.8 1010.5 213.8 Q1007.2 213.8 1007.2 210.5 Q1007.2 207.8 1011 206.2Z" fill="url(#fg)" stroke="#1d4fc4" stroke-width=".8"/><rect x="1007.6" y="200.3" width="4.6" height="6" rx="1" transform="rotate(-25 1009.9 203.3)" fill="#dfe8fb" stroke="#1d4fc4" stroke-width=".8"/><rect x="1016.5" y="209.5" width="5.2" height="4.6" rx="1" transform="rotate(-35 1019 212)" fill="#dfe8fb" stroke="#1d4fc4" stroke-width=".8"/><circle cx="1020.5" cy="203.3" r="1.6" fill="none" stroke="#1d4fc4" stroke-width=".8"/><path d="M1023.5 200 l2 -1.8 M1024.2 203 l2.6 0 M1023 198 l.6 -2.4" stroke="#1d4fc4" stroke-width=".8"/><path d="M1064 205.5 L1080.5 199 L1081.5 218.5 L1064 212Z" fill="#dbe6fb" stroke="#1d4fc4" stroke-width=".9" stroke-linejoin="round"/><rect x="1059.3" y="205" width="6" height="7.6" rx="2.6" fill="url(#fg)" stroke="#1d4fc4" stroke-width=".8"/><path d="M1064.5 212.5 L1063.5 219.5 L1066.5 219.5 L1068 213" fill="#fff" stroke="#1d4fc4" stroke-width=".8"/><rect x="1079.5" y="198.5" width="2.2" height="20.5" rx="1" fill="url(#fg)"/><path d="M1083.8 205.5 L1085.6 208.4 L1083.8 211.2" fill="none" stroke="#1d4fc4" stroke-width=".8"/><circle cx="1115" cy="203" r="3.6" fill="#fff" stroke="#1d4fc4" stroke-width=".9"/><path d="M1107.7 217.8 Q1108 209.5 1115 209.5 Q1122 209.5 1122.3 217.8Z" fill="#fff" stroke="#1d4fc4" stroke-width=".9"/><circle cx="1126" cy="201.5" r="3.8" fill="url(#fg)" stroke="#1d4fc4" stroke-width=".8"/><path d="M1118.5 214.5 Q1119 207.5 1126 207.5 Q1133 207.5 1133.3 214.5Z" fill="url(#fg)" stroke="#1d4fc4" stroke-width=".8"/><path d="M1129.5 199 L1133 196.5" stroke="#1d4fc4" stroke-width=".8"/><circle cx="1160" cy="203.5" r="4.6" fill="#dfe8fb" stroke="#1d4fc4" stroke-width=".9"/><text x="1160" y="205.4" font-size="5" text-anchor="middle" fill="#1d4fc4" font-family="Liberation Sans" font-weight="bold">€</text><ellipse cx="1165" cy="216.5" rx="5.6" ry="1.9" fill="url(#fg)" stroke="#1d4fc4" stroke-width=".6"/><ellipse cx="1165" cy="213.9" rx="5.6" ry="1.9" fill="url(#fg)" stroke="#1d4fc4" stroke-width=".6"/><ellipse cx="1165" cy="211.3" rx="5.6" ry="1.9" fill="url(#fg)" stroke="#1d4fc4" stroke-width=".6"/><ellipse cx="1165" cy="208.7" rx="5.6" ry="1.9" fill="url(#fg)" stroke="#1d4fc4" stroke-width=".6"/><ellipse cx="1157.5" cy="219.0" rx="5.4" ry="1.8" fill="url(#fg)" stroke="#1d4fc4" stroke-width=".6"/><ellipse cx="1157.5" cy="216.5" rx="5.4" ry="1.8" fill="url(#fg)" stroke="#1d4fc4" stroke-width=".6"/><ellipse cx="1157.5" cy="214.0" rx="5.4" ry="1.8" fill="url(#fg)" stroke="#1d4fc4" stroke-width=".6"/><path d="M1024.0 210.3 L1053.0 210.3 M1050.0 207.6 L1053.0 210.3 L1050.0 213" fill="none" stroke="#2d6ae6" stroke-width="1" stroke-linecap="round"/><path d="M1088.7 210.3 L1104.7 210.3 M1101.7 207.6 L1104.7 210.3 L1101.7 213" fill="none" stroke="#2d6ae6" stroke-width="1" stroke-linecap="round"/><path d="M1135.0 210.3 L1148.5 210.3 M1145.5 207.6 L1148.5 210.3 L1145.5 213" fill="none" stroke="#2d6ae6" stroke-width="1" stroke-linecap="round"/></svg>
<div class="t" style="left:1001.90px;top:225.85px;font-size:7.27px;color:#1f2937;font-weight:bold;letter-spacing:-0.221px;">Leads</div>
<div class="t" style="left:1055.50px;top:225.85px;font-size:7.27px;color:#1f2937;letter-spacing:-0.162px;">Outreach</div>
<div class="t" style="left:1106.70px;top:225.85px;font-size:7.27px;color:#1f2937;letter-spacing:-0.249px;">Meetings</div>
<div class="t" style="left:1151.90px;top:225.85px;font-size:7.27px;color:#1f2937;letter-spacing:-0.542px;">Revenue</div>
<div class="a" style="left:1002.60px;top:262.00px;width:162.40px;height:123.50px;border-radius:6px;background:#e9eefa"></div>
<div class="a" style="left:1006.00px;top:268.00px;width:51.70px;height:32.90px;border-radius:2px;background:#fff;box-shadow:0 1px 2px rgba(60,90,160,.1)"></div>
<div class="a" style="left:1060.00px;top:268.00px;width:47.60px;height:32.90px;border-radius:2px;background:#fff;box-shadow:0 1px 2px rgba(60,90,160,.1)"></div>
<div class="a" style="left:1110.00px;top:268.00px;width:52.00px;height:32.90px;border-radius:2px;background:#fff;box-shadow:0 1px 2px rgba(60,90,160,.1)"></div>
<div class="t" style="left:1009.00px;top:275.34px;font-size:3.50px;color:#7b8494;letter-spacing:0.193px;">Geplante Erstgespräche</div>
<div class="t" style="left:1063.00px;top:275.34px;font-size:3.50px;color:#7b8494;letter-spacing:0.187px;">Show-Rate</div>
<div class="t" style="left:1113.00px;top:275.34px;font-size:3.50px;color:#7b8494;letter-spacing:0.177px;">Pipeline Value</div>
<div class="t" style="left:1009.00px;top:287.25px;font-size:9.16px;color:#2f66ea;font-weight:bold;transform:scaleX(1.1290);transform-origin:0 0;">44</div>
<div class="t" style="left:1063.00px;top:287.25px;font-size:9.16px;color:#2f66ea;font-weight:bold;transform:scaleX(0.9629);transform-origin:0 0;">91.2%</div>
<div class="t" style="left:1113.00px;top:287.25px;font-size:9.16px;color:#2f66ea;font-weight:bold;transform:scaleX(1.0799);transform-origin:0 0;">$536k</div>
<svg class="a" style="left:1098.00px;top:287.00px;" width="6.00" height="5.00" viewBox="1098.00 287.00 6.00 5.00"><path d="M1099 291 L1101 289 L1103 291" fill="none" stroke="#6b7280" stroke-width=".7"/></svg>
<svg class="a" style="left:1147.00px;top:286.00px;" width="10.00" height="10.00" viewBox="1147.00 286.00 10.00 10.00"><rect x="1148.3" y="290" width="1.8" height="5" fill="#4b5563"/><rect x="1151.1" y="288.6" width="1.8" height="6.4" fill="#4b5563"/><rect x="1153.9" y="287.2" width="1.8" height="7.8" fill="#4b5563"/></svg>
<div class="a" style="left:1007.50px;top:306.00px;width:154.50px;height:75.50px;border-radius:6px;background:linear-gradient(180deg,#f7f9fe,#eef2fc);box-shadow:0 1px 4px rgba(60,90,160,.12)"></div>
<svg class="a" style="left:1010.00px;top:330.00px;" width="150.00" height="45.00" viewBox="1010.00 330.00 150.00 45.00"><defs><radialGradient id="mglow" cx=".5" cy=".5" r=".5"><stop offset="0" stop-color="#c3d4f7" stop-opacity=".9"/><stop offset="1" stop-color="#eef2fc" stop-opacity="0"/></radialGradient></defs><ellipse cx="1058" cy="352" rx="42" ry="22" fill="url(#mglow)"/><defs><linearGradient id="gmc" gradientUnits="userSpaceOnUse" x1="0" y1="345.30" x2="0" y2="371.60"><stop offset="0" stop-color="#4f82ee"/><stop offset="1" stop-color="#dbe6fb" stop-opacity=".25"/></linearGradient><clipPath id="cmc"><path d="M1016.50 369.30 C1019.37 368.58 1028.08 366.82 1033.70 365.00 C1039.32 363.18 1045.32 360.52 1050.20 358.40 C1055.08 356.28 1056.53 355.95 1063.00 352.30 C1069.47 348.65 1084.70 339.11 1089.05 336.47 L1089.05 371.60 L1016.50 371.60 Z"/></clipPath></defs><g clip-path="url(#cmc)"><rect x="1016.50" y="331.47" width="17.20" height="40.13" fill="url(#gmc)" opacity="0.45"/><rect x="1033.70" y="331.47" width="16.50" height="40.13" fill="url(#gmc)" opacity="0.65"/><rect x="1050.20" y="331.47" width="12.80" height="40.13" fill="url(#gmc)" opacity="0.85"/><rect x="1063.00" y="331.47" width="26.05" height="40.13" fill="url(#gmc)" opacity="0.60"/></g><path d="M1016.50 369.30 C1019.37 368.58 1028.08 366.82 1033.70 365.00" fill="none" stroke="#1f5fe0" stroke-width="0.70" stroke-linecap="round"/><path d="M1033.70 365.00 C1039.32 363.18 1045.32 360.52 1050.20 358.40" fill="none" stroke="#1f5fe0" stroke-width="1.00" stroke-linecap="round"/><path d="M1050.20 358.40 C1055.08 356.28 1056.53 355.95 1063.00 352.30" fill="none" stroke="#1f5fe0" stroke-width="1.30" stroke-linecap="round"/><path d="M1063.00 352.30 C1069.47 348.65 1084.70 339.11 1089.05 336.47" fill="none" stroke="#1f5fe0" stroke-width="1.30" stroke-linecap="round"/><path d="M1092.20 333.70 L1090.76 338.43 L1087.33 334.52 Z" fill="#1f5fe0" stroke="#1f5fe0" stroke-width=".8" stroke-linejoin="round"/><circle cx="1033.70" cy="365.00" r="1.20" fill="#fff" stroke="#1f5fe0" stroke-width="0.60"/><circle cx="1050.20" cy="358.40" r="1.20" fill="#fff" stroke="#1f5fe0" stroke-width="0.60"/><circle cx="1063.00" cy="352.30" r="1.20" fill="#fff" stroke="#1f5fe0" stroke-width="0.60"/><rect x="1069" y="336.5" width="20" height="7.6" rx="3.8" fill="#fff" filter="drop-shadow(0 1px 1px rgba(60,90,160,.15))"/><text x="1079" y="341.6" font-size="3.4" text-anchor="middle" fill="#3a6cf0" font-family="Liberation Sans">$536k</text><rect x="1107.8" y="349" width="13.2" height="10" fill="#2bb39a"/><ellipse cx="1114.4" cy="349" rx="6.6" ry="2.3" fill="#4dd0b4"/><path d="M1107.8 351 L1113 353 L1113 359 L1107.8 359Z" fill="#1e5bd6"/><rect x="1099" y="354" width="5" height="1.2" fill="#6f9af0"/><rect x="1124" y="354" width="2" height="1.2" fill="#1e5bd6"/><rect x="1130.6" y="340.5" width="24.6" height="20" rx="2.2" fill="#fff" stroke="#1e5bd6" stroke-width="1.3"/><rect x="1130.6" y="340.5" width="24.6" height="5" rx="2" fill="#1e5bd6"/><rect x="1134" y="350" width="3" height="4" fill="#6b9af0"/><rect x="1138" y="350" width="3" height="4" fill="#9bb8f2"/><circle cx="1144" cy="352" r="1.8" fill="#22b07d"/><circle cx="1148.5" cy="352" r="1.8" fill="#22b07d"/><path d="M1136 339.5 V344 M1151 339.5 V344" stroke="#cfd6e4" stroke-width="1.2"/></svg>
<div class="a" style="left:1080.00px;top:357.00px;width:130.00px;height:165.00px;border-radius:7px;background:linear-gradient(180deg,#eef2fc 0%,#f2f5fd 55%,#f6f8fe 100%);box-shadow:-2px 0 6px rgba(60,90,160,.08)"></div>
<svg class="a" style="left:1085.00px;top:365.00px;" width="115.00" height="53.00" viewBox="1085.00 365.00 115.00 53.00"><rect x="1088" y="412.9" width="106" height="0.7" fill="#dbe2ef"/><defs><linearGradient id="gpc" gradientUnits="userSpaceOnUse" x1="0" y1="374.50" x2="0" y2="413.20"><stop offset="0" stop-color="#4f82ee"/><stop offset="1" stop-color="#dbe6fb" stop-opacity=".25"/></linearGradient><clipPath id="cpc"><path d="M1090.50 412.40 C1095.65 410.97 1111.83 407.52 1121.40 403.80 C1130.97 400.08 1140.62 394.27 1147.90 390.10 C1155.18 385.93 1160.19 381.67 1165.10 378.80 C1170.01 375.93 1175.29 373.84 1177.33 372.85 L1177.33 413.20 L1090.50 413.20 Z"/></clipPath></defs><g clip-path="url(#cpc)"><rect x="1090.50" y="367.85" width="30.90" height="45.35" fill="url(#gpc)" opacity="0.35"/><rect x="1121.40" y="367.85" width="26.50" height="45.35" fill="url(#gpc)" opacity="0.60"/><rect x="1147.90" y="367.85" width="17.20" height="45.35" fill="url(#gpc)" opacity="0.85"/><rect x="1165.10" y="367.85" width="12.23" height="45.35" fill="url(#gpc)" opacity="0.55"/></g><path d="M1090.50 412.40 C1095.65 410.97 1111.83 407.52 1121.40 403.80" fill="none" stroke="#1f5fe0" stroke-width="0.90" stroke-linecap="round"/><path d="M1121.40 403.80 C1130.97 400.08 1140.62 394.27 1147.90 390.10" fill="none" stroke="#1f5fe0" stroke-width="1.60" stroke-linecap="round"/><path d="M1147.90 390.10 C1155.18 385.93 1160.19 381.67 1165.10 378.80" fill="none" stroke="#1f5fe0" stroke-width="2.10" stroke-linecap="round"/><path d="M1165.10 378.80 C1170.01 375.93 1175.29 373.84 1177.33 372.85" fill="none" stroke="#1f5fe0" stroke-width="2.10" stroke-linecap="round"/><path d="M1184.50 369.30 L1179.37 376.97 L1175.29 368.73 Z" fill="#1f5fe0" stroke="#1f5fe0" stroke-width=".8" stroke-linejoin="round"/><circle cx="1121.40" cy="403.80" r="2.50" fill="#cddcf9" stroke="#1f5fe0" stroke-width="1.20"/><circle cx="1147.90" cy="390.10" r="2.50" fill="#cddcf9" stroke="#1f5fe0" stroke-width="1.20"/><circle cx="1165.10" cy="378.80" r="2.50" fill="#cddcf9" stroke="#1f5fe0" stroke-width="1.20"/></svg>
<div class="a" style="left:1091.00px;top:425.40px;width:105.70px;height:36.80px;border-radius:6px;background:#fbfcff;box-shadow:0 2px 6px rgba(60,90,160,.12)"></div>
<div class="t" style="left:1098.50px;top:429.88px;font-size:7.70px;color:#1e2a44;font-weight:bold;letter-spacing:-0.558px;">Pipeline Value</div>
<div class="t" style="left:1098.50px;top:443.22px;font-size:12.50px;color:#111827;font-weight:bold;transform:scaleX(1.0500);transform-origin:0 0;">$536k</div>
<svg class="a" style="left:1168.00px;top:433.00px;" width="27.00" height="23.00" viewBox="1168.00 433.00 27.00 23.00"><defs><linearGradient id="bg2" x1="0" y1="0" x2="0" y2="1"><stop offset="0" stop-color="#4d8cf5"/><stop offset="1" stop-color="#2364e0"/></linearGradient></defs><rect x="1171" y="445" width="5.2" height="8.8" rx="1.4" fill="url(#bg2)"/><rect x="1178.2" y="440.1" width="5.2" height="13.7" rx="1.4" fill="url(#bg2)"/><rect x="1185.6" y="436" width="5.4" height="17.8" rx="1.4" fill="url(#bg2)"/></svg>
<div class="t" style="left:1109.65px;top:480.67px;font-size:9.01px;color:#1e2a44;font-weight:bold;letter-spacing:-0.394px;">Monthly Revenue</div>
<div class="t" style="left:1124.30px;top:494.88px;font-size:13.37px;color:#111827;font-weight:bold;transform:scaleX(0.9020);transform-origin:0 0;">$107.2k</div>
<svg class="a" style="left:10.00px;top:340.00px;" width="85.00" height="80.00" viewBox="10.00 340.00 85.00 80.00"><path d="M30.4 349.5 C22 350 16.5 358 17.3 372 C18 386 28 396 40 399.5 C52 402 61 396 60 386 C59 377 52 374 47.5 374.5 C40 375 35 381 35.5 388 C36 400 45 410 58 411.5 C68 412.5 78 405 85 398" fill="none" stroke="#3a6ef0" stroke-width="2.5" stroke-linecap="round"/><path d="M68.3 401.6 L85.5 397.5 L78.1 411.5" fill="none" stroke="#3a6ef0" stroke-width="2.5" stroke-linecap="round" stroke-linejoin="round"/></svg>
<svg class="a" style="left:995.00px;top:430.00px;" width="83.00" height="62.00" viewBox="995.00 430.00 83.00 62.00"><path d="M1071.1 478.5 Q1066 486.5 1052.9 485.8 Q1038 484 1035.3 472.6 Q1033 466 1032.4 455.1 Q1030 441 1017 440 Q1008 439.5 999.5 441.2" fill="none" stroke="#4b5565" stroke-width="2.7" stroke-linecap="round"/><path d="M1014.9 434.6 L999 441.2 L1011.9 447.8" fill="none" stroke="#4b5565" stroke-width="2.8" stroke-linecap="round" stroke-linejoin="round"/></svg>
</body></html>
